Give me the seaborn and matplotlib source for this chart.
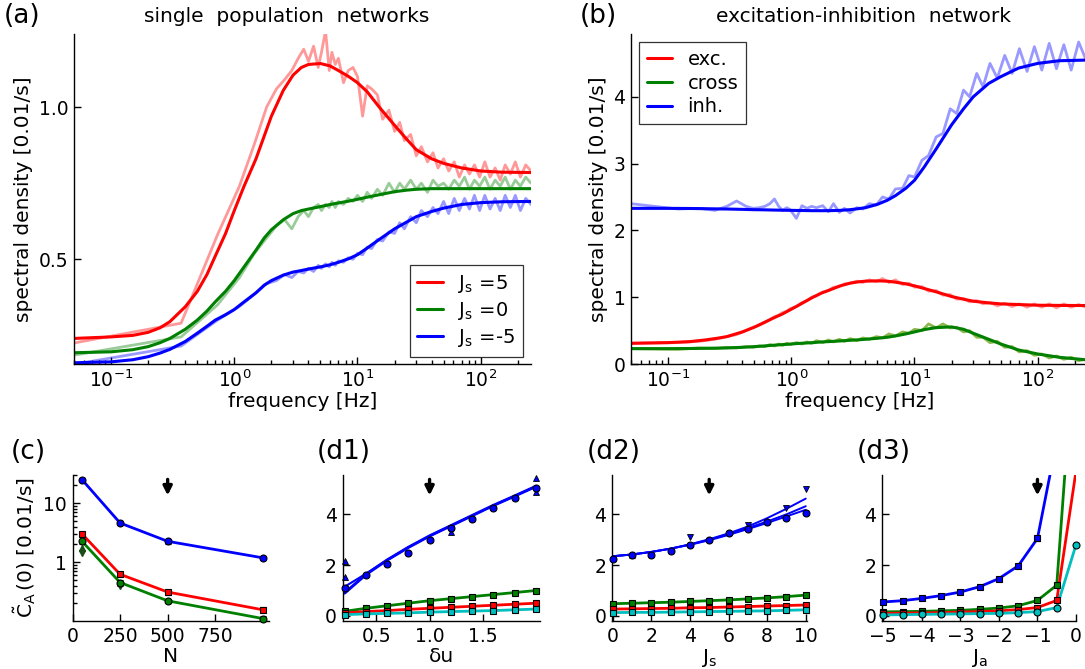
import matplotlib
matplotlib.use("Agg")
import matplotlib.pyplot as plt
from matplotlib.ticker import NullFormatter
import seaborn as sns

# ---------------- panel (a): single population networks ----------------
freq_theory = [0.05, 0.1, 0.15, 0.2, 0.25, 0.3, 0.4, 0.5, 0.6, 0.7, 0.85, 1, 1.2, 1.5,
               1.75, 2, 2.5, 3, 3.5, 4, 5, 6, 7, 8.5, 10, 12, 15, 20, 25, 30, 40, 50,
               70, 100, 150, 256]
a_pos_theory = [0.24, 0.245, 0.25, 0.26, 0.275, 0.295, 0.344, 0.394, 0.45, 0.51, 0.585,
                0.66, 0.74, 0.83, 0.905, 0.97, 1.055, 1.105, 1.13, 1.14, 1.143, 1.135,
                1.12, 1.1, 1.08, 1.05, 1.0, 0.94, 0.895, 0.86, 0.83, 0.815, 0.8, 0.79,
                0.786, 0.785]
a_zero_theory = [0.193, 0.196, 0.203, 0.213, 0.226, 0.24, 0.27, 0.30, 0.33, 0.36, 0.395,
                 0.43, 0.475, 0.53, 0.57, 0.597, 0.63, 0.65, 0.66, 0.665, 0.673, 0.68,
                 0.685, 0.691, 0.697, 0.704, 0.712, 0.722, 0.727, 0.73, 0.732, 0.732,
                 0.732, 0.732, 0.732, 0.732]
a_neg_theory = [0.16, 0.163, 0.17, 0.18, 0.192, 0.204, 0.23, 0.257, 0.28, 0.30, 0.318,
                0.335, 0.36, 0.39, 0.415, 0.43, 0.448, 0.458, 0.463, 0.468, 0.475, 0.482,
                0.49, 0.502, 0.515, 0.537, 0.565, 0.60, 0.622, 0.64, 0.657, 0.668, 0.68,
                0.686, 0.689, 0.69]

a_freq_sim = [0.05, 0.37, 0.73, 1.1, 1.46, 1.83, 2.2, 2.56, 2.93, 3.3,
              3.66, 4.0, 4.4, 4.8, 5.1, 5.5, 5.9, 6.2, 6.6, 7.0,
              7.7, 8.4, 9.2, 10, 11, 12, 13, 14.5, 16, 18,
              20, 22, 24, 27, 30, 33, 37, 41, 45, 50,
              55, 61, 67, 74, 81, 89, 98, 108, 119, 131,
              144, 158, 174, 191, 210, 232, 256]
a_pos_sim = [0.225, 0.29, 0.58, 0.74, 0.88, 1.0, 1.06, 1.09, 1.12, 1.16,
             1.19, 1.15, 1.2, 1.13, 1.18, 1.25, 1.12, 1.18, 1.14, 1.16,
             1.08, 1.12, 1.13, 1.1, 0.97, 1.07, 1.06, 1.04, 0.96, 0.99,
             0.92, 0.95, 0.89, 0.91, 0.84, 0.87, 0.82, 0.85, 0.8, 0.83,
             0.79, 0.82, 0.77, 0.81, 0.78, 0.81, 0.77, 0.82, 0.77, 0.8,
             0.76, 0.81, 0.78, 0.82, 0.77, 0.81, 0.79]
a_zero_sim = [0.185, 0.245, 0.35, 0.44, 0.52, 0.57, 0.61, 0.63, 0.6, 0.64,
              0.66, 0.64, 0.67, 0.68, 0.66, 0.68, 0.67, 0.69, 0.67, 0.69,
              0.68, 0.7, 0.69, 0.71, 0.69, 0.72, 0.7, 0.73, 0.71, 0.75,
              0.72, 0.75, 0.73, 0.76, 0.73, 0.75, 0.72, 0.76, 0.74, 0.75,
              0.73, 0.76, 0.74, 0.77, 0.73, 0.76, 0.74, 0.77, 0.73, 0.76,
              0.74, 0.77, 0.73, 0.76, 0.74, 0.77, 0.75]
a_neg_sim = [0.155, 0.215, 0.3, 0.345, 0.385, 0.42, 0.43, 0.45, 0.44, 0.46,
             0.455, 0.47, 0.46, 0.48, 0.47, 0.485, 0.475, 0.49, 0.48, 0.495,
             0.49, 0.505, 0.5, 0.52, 0.515, 0.54, 0.535, 0.565, 0.56, 0.59,
             0.585, 0.62, 0.6, 0.64, 0.62, 0.66, 0.64, 0.67, 0.65, 0.69,
             0.65, 0.7, 0.66, 0.7, 0.665, 0.71, 0.66, 0.71, 0.665, 0.7,
             0.66, 0.71, 0.67, 0.71, 0.66, 0.7, 0.68]
a_labels = [r"J$_{\rm s}$ =5", r"J$_{\rm s}$ =0", r"J$_{\rm s}$ =-5"]

# ---------------- panel (b): excitation-inhibition network ----------------
b_exc_theory = [0.31, 0.32, 0.335, 0.36, 0.385, 0.41, 0.48, 0.55, 0.62, 0.68, 0.75,
                0.82, 0.9, 1.0, 1.06, 1.1, 1.17, 1.21, 1.23, 1.24, 1.245, 1.24, 1.225,
                1.2, 1.17, 1.13, 1.08, 1.01, 0.97, 0.94, 0.915, 0.9, 0.89, 0.88, 0.877,
                0.875]
b_cross_theory = [0.23, 0.23, 0.232, 0.235, 0.238, 0.24, 0.25, 0.26, 0.27, 0.28, 0.29,
                  0.3, 0.31, 0.32, 0.33, 0.335, 0.345, 0.355, 0.362, 0.37, 0.385, 0.4,
                  0.42, 0.45, 0.48, 0.515, 0.545, 0.555, 0.52, 0.46, 0.37, 0.3, 0.21,
                  0.15, 0.1, 0.06]
b_inh_theory = [2.33, 2.33, 2.328, 2.325, 2.322, 2.32, 2.315, 2.31, 2.308, 2.305, 2.302,
                2.3, 2.298, 2.295, 2.295, 2.295, 2.3, 2.31, 2.325, 2.34, 2.39, 2.45,
                2.52, 2.63, 2.75, 2.95, 3.22, 3.58, 3.82, 4.0, 4.2, 4.3, 4.43, 4.5,
                4.54, 4.55]

b_freq_sim = [0.05, 0.12, 0.18, 0.24, 0.3, 0.36, 0.43, 0.49, 0.55, 0.61,
              0.67, 0.73, 0.79, 0.85, 0.92, 0.98, 1.1, 1.22, 1.34, 1.46,
              1.6, 1.8, 2.0, 2.2, 2.45, 2.7, 3.0, 3.4, 3.8, 4.3,
              4.9, 5.5, 6.2, 7, 8, 9, 10, 11.5, 13, 15,
              17, 19.5, 22, 25, 28, 32, 36, 41, 47, 54,
              62, 71, 82, 94, 108, 124, 142, 163, 187, 215, 256]
b_exc_sim = [0.31, 0.32, 0.34, 0.37, 0.41, 0.44, 0.5, 0.55, 0.58, 0.62,
             0.66, 0.71, 0.73, 0.77, 0.79, 0.83, 0.86, 0.92, 0.95, 1.0,
             1.02, 1.08, 1.1, 1.15, 1.16, 1.2, 1.21, 1.24, 1.22, 1.26,
             1.23, 1.28, 1.22, 1.26, 1.19, 1.21, 1.15, 1.16, 1.09, 1.1,
             1.03, 1.04, 0.97, 0.98, 0.93, 0.95, 0.9, 0.92, 0.87, 0.91,
             0.86, 0.9, 0.85, 0.9, 0.85, 0.9, 0.84, 0.9, 0.85, 0.89, 0.84]
b_cross_sim = [0.23, 0.22, 0.24, 0.23, 0.25, 0.24, 0.26, 0.25, 0.27, 0.26,
               0.29, 0.27, 0.3, 0.28, 0.31, 0.29, 0.32, 0.3, 0.33, 0.31,
               0.35, 0.32, 0.36, 0.33, 0.37, 0.34, 0.38, 0.35, 0.39, 0.37,
               0.41, 0.39, 0.45, 0.42, 0.48, 0.46, 0.52, 0.5, 0.6, 0.54,
               0.6, 0.54, 0.55, 0.48, 0.5, 0.4, 0.4, 0.32, 0.34, 0.25,
               0.26, 0.18, 0.2, 0.13, 0.15, 0.09, 0.12, 0.07, 0.1, 0.05, 0.08]
b_inh_sim = [2.40, 2.32, 2.33, 2.30, 2.36, 2.44, 2.36, 2.33, 2.34, 2.36,
             2.40, 2.47, 2.36, 2.30, 2.34, 2.31, 2.18, 2.37, 2.33, 2.36,
             2.34, 2.37, 2.28, 2.40, 2.27, 2.33, 2.26, 2.34, 2.32, 2.40,
             2.38, 2.50, 2.47, 2.62, 2.63, 2.82, 2.80, 3.05, 3.12, 3.40,
             3.45, 3.82, 3.75, 4.10, 4.00, 4.35, 4.15, 4.50, 4.28, 4.62,
             4.35, 4.72, 4.38, 4.75, 4.40, 4.80, 4.42, 4.78, 4.40, 4.82, 4.48]
b_labels = ["exc.", "cross", "inh."]

# ---------------- panel (c): zero-frequency power vs N ----------------
c_N = [50, 250, 500, 1000]
c_exc = [3.0, 0.62, 0.31, 0.155]
c_cross = [2.25, 0.45, 0.22, 0.11]
c_inh = [25.0, 4.6, 2.25, 1.18]
c_exc_err = [0.25, 0.05, 0.03, 0.015]
c_cross_err = [0.2, 0.05, 0.02, 0.01]
c_inh_err = [2.0, 0.35, 0.2, 0.08]
c_tri_N = [50, 50, 250]
c_tri_val = [1.75, 1.4, 0.4]

# ---------------- panel (d1): vs delta u ----------------
d1_du = [0.2, 0.4, 0.6, 0.8, 1.0, 1.2, 1.4, 1.6, 1.8, 2.0]
d1_inh_a = [0.9, 1.63, 2.2, 2.7, 3.15, 3.55, 3.95, 4.35, 4.72, 5.1]
d1_inh_b = [1.15, 1.66, 2.2, 2.7, 3.15, 3.55, 3.95, 4.35, 4.72, 5.1]
d1_inh_pts = [1.1, 1.6, 2.04, 2.48, 2.99, 3.45, 3.8, 4.24, 4.64, 5.05]
d1_cross = [0.18, 0.3, 0.4, 0.5, 0.6, 0.68, 0.76, 0.84, 0.92, 1.0]
d1_exc = [0.12, 0.17, 0.21, 0.26, 0.3, 0.34, 0.38, 0.42, 0.46, 0.5]
d1_cyan = [0.05, 0.08, 0.1, 0.12, 0.15, 0.17, 0.19, 0.21, 0.24, 0.27]
d1_tri_x = [0.2, 0.2, 1.2, 2.0, 2.0]
d1_tri_val = [1.53, 2.16, 3.31, 4.9, 5.43]

# ---------------- panel (d2): vs J_s ----------------
d2_js = [0, 1, 2, 3, 4, 5, 6, 7, 8, 9, 10]
d2_inh_a = [2.35, 2.42, 2.52, 2.65, 2.82, 3.02, 3.25, 3.52, 3.85, 4.22, 4.62]
d2_inh_b = [2.35, 2.42, 2.52, 2.65, 2.81, 3.0, 3.22, 3.46, 3.72, 4.0, 4.32]
d2_inh_c = [2.35, 2.42, 2.52, 2.65, 2.8, 2.98, 3.19, 3.42, 3.66, 3.92, 4.18]
d2_inh_pts = [2.25, 2.38, 2.41, 2.55, 2.78, 3.0, 3.25, 3.44, 3.71, 3.84, 4.04]
d2_cross = [0.48, 0.5, 0.52, 0.54, 0.57, 0.6, 0.63, 0.67, 0.71, 0.76, 0.82]
d2_exc = [0.27, 0.28, 0.29, 0.3, 0.32, 0.33, 0.35, 0.37, 0.39, 0.41, 0.43]
d2_cyan = [0.13, 0.14, 0.14, 0.15, 0.16, 0.17, 0.18, 0.19, 0.2, 0.22, 0.24]
d2_tri_x = [4, 7, 9, 10]
d2_tri_val = [3.11, 3.58, 4.24, 4.99]

# ---------------- panel (d3): vs J_a ----------------
d3_ja = [-5, -4.5, -4, -3.5, -3, -2.5, -2, -1.5, -1, -0.5, 0]
d3_ja_inh = [-5, -4.5, -4, -3.5, -3, -2.5, -2, -1.5, -1, -0.5]
d3_inh = [0.55, 0.6, 0.69, 0.8, 0.94, 1.15, 1.47, 1.97, 3.05, 6.9]
d3_cross = [0.16, 0.17, 0.18, 0.2, 0.22, 0.26, 0.31, 0.4, 0.61, 1.21, 11.6]
d3_exc = [0.1, 0.11, 0.12, 0.13, 0.15, 0.17, 0.2, 0.25, 0.33, 0.61, 5.7]
d3_cyan = [0.04, 0.05, 0.06, 0.07, 0.08, 0.09, 0.1, 0.13, 0.17, 0.33, 2.8]

RED, GREEN, BLUE, CYAN = "#ff0000", "#008000", "#0000ff", "#00bfbf"
OLIVE = "#8fb84e"

sns.set_theme(style="ticks")
plt.rcParams["font.family"] = ["DejaVu Sans"]
plt.rcParams.update({
    "mathtext.fontset": "dejavusans",
    "axes.edgecolor": "black",
    "axes.labelcolor": "black",
    "text.color": "black",
    "xtick.color": "black",
    "ytick.color": "black",
    "xtick.direction": "in",
    "ytick.direction": "in",
    "axes.linewidth": 1.0,
})

W, H = 1085, 669
fig = plt.figure(figsize=(W / 100, H / 100), dpi=100)


def add_axes(left, top, right, bottom):
    return fig.add_axes([left / W, 1 - bottom / H, (right - left) / W, (bottom - top) / H])


def style(ax):
    sns.despine(ax=ax)
    ax.tick_params(which="both", direction="in", top=False, right=False,
                   labelsize=13.5, width=1, pad=4)
    ax.tick_params(which="major", length=5)
    ax.tick_params(which="minor", length=3)


def line(ax, x, y, color, lw=2.0, alpha=1.0):
    sns.lineplot(x=x, y=y, ax=ax, color=color, lw=lw, alpha=alpha,
                 errorbar=None, legend=False)
    return ax.lines[-1]


def points(ax, x, y, err, color, marker="s"):
    ax.errorbar(x, y, yerr=err, fmt=marker, ms=5, mfc=color, mec="black", mew=0.8,
                ecolor="black", elinewidth=1, capsize=2.5, capthick=1,
                clip_on=False, zorder=5)


def arrow(ax, x):
    ax.annotate("", xy=(x, 0.86), xycoords=("data", "axes fraction"),
                xytext=(x, 0.97), textcoords=("data", "axes fraction"),
                arrowprops=dict(arrowstyle="-|>", color="black", lw=2.4,
                                mutation_scale=13, shrinkA=0, shrinkB=0))


# ---- (a)
ax_a = add_axes(74, 34, 531, 364)
for sim, col in [(a_pos_sim, RED), (a_zero_sim, GREEN), (a_neg_sim, BLUE)]:
    line(ax_a, a_freq_sim, sim, col, lw=2.0, alpha=0.4)
handles = []
for th, col in [(a_pos_theory, RED), (a_zero_theory, GREEN), (a_neg_theory, BLUE)]:
    handles.append(line(ax_a, freq_theory, th, col, lw=2.2))
ax_a.set_xscale("log")
ax_a.set_xlim(0.05, 256)
ax_a.set_ylim(0.156, 1.24)
ax_a.set_yticks([0.5, 1.0])
ax_a.set_yticklabels(["0.5", "1.0"])
ax_a.xaxis.set_minor_formatter(NullFormatter())
style(ax_a)
ax_a.set_xlabel("frequency [Hz]", fontsize=14.5, labelpad=1)
ax_a.set_ylabel("spectral density [0.01/s]", fontsize=14.5)
leg = ax_a.legend(handles, a_labels, loc="lower right", bbox_to_anchor=(0.982, 0.022),
                  borderaxespad=0, fontsize=14, frameon=True, fancybox=False,
                  edgecolor="black", handlelength=1.3, handletextpad=0.8,
                  labelspacing=0.25, borderpad=0.4)
leg.get_frame().set_linewidth(0.9)

# ---- (b)
ax_b = add_axes(631, 34, 1088, 364)
for sim, col, al in [(b_exc_sim, RED, 0.4), (b_cross_sim, OLIVE, 1.0), (b_inh_sim, BLUE, 0.4)]:
    line(ax_b, b_freq_sim, sim, col, lw=2.0, alpha=al)
handles = []
for th, col in [(b_exc_theory, RED), (b_cross_theory, GREEN), (b_inh_theory, BLUE)]:
    handles.append(line(ax_b, freq_theory, th, col, lw=2.2))
ax_b.set_xscale("log")
ax_b.set_xlim(0.05, 256)
ax_b.set_ylim(0, 4.94)
ax_b.set_yticks([0, 1, 2, 3, 4])
ax_b.xaxis.set_minor_formatter(NullFormatter())
style(ax_b)
ax_b.set_xlabel("frequency [Hz]", fontsize=14.5, labelpad=1)
ax_b.set_ylabel("spectral density [0.01/s]", fontsize=14.5)
leg = ax_b.legend(handles, b_labels, loc="upper left", bbox_to_anchor=(0.017, 0.976),
                  borderaxespad=0, fontsize=14, frameon=True, fancybox=False,
                  edgecolor="black", handlelength=1.3, handletextpad=0.8,
                  labelspacing=0.25, borderpad=0.4)
leg.get_frame().set_linewidth(0.9)

# ---- (c)
ax_c = add_axes(72.5, 475, 268.5, 621)
for vals, col in [(c_exc, RED), (c_cross, GREEN), (c_inh, BLUE)]:
    line(ax_c, c_N, vals, col, lw=2.0)
points(ax_c, c_N, c_exc, c_exc_err, RED, "s")
points(ax_c, c_N, c_cross, c_cross_err, GREEN, "o")
points(ax_c, c_N, c_inh, c_inh_err, BLUE, "o")
ax_c.plot(c_tri_N[:1], c_tri_val[:1], "^", color="#1a4d1a", ms=5, clip_on=False)
ax_c.plot(c_tri_N[1:], c_tri_val[1:], "v", color="#1a4d1a", ms=5, clip_on=False)
ax_c.set_yscale("log")
ax_c.set_xlim(0, 1030)
ax_c.set_ylim(0.1, 30)
ax_c.set_xticks([0, 250, 500, 750])
ax_c.set_yticks([1, 10])
ax_c.set_yticklabels(["1", "10"])
ax_c.yaxis.set_minor_formatter(NullFormatter())
style(ax_c)
ax_c.set_xlabel("N", fontsize=14.5, labelpad=1)
ax_c.set_ylabel(r"$\tilde{\mathrm{C}}_{\mathrm{A}}\,(0)$ [0.01/s]", fontsize=14.5)
arrow(ax_c, 500)

# ---- (d1)
ax_d1 = add_axes(342.5, 475, 540, 621)
line(ax_d1, d1_du, d1_inh_a, BLUE, lw=2.2)
line(ax_d1, d1_du, d1_inh_b, BLUE, lw=1.5)
for vals, col in [(d1_cross, GREEN), (d1_exc, RED), (d1_cyan, CYAN)]:
    line(ax_d1, d1_du, vals, col, lw=2.0)
    points(ax_d1, d1_du, vals, 0.07, col)
points(ax_d1, d1_du, d1_inh_pts, 0.08, BLUE, "o")
ax_d1.plot(d1_tri_x, d1_tri_val, "^", color=BLUE, mec="black", mew=0.6, ms=5, clip_on=False)
ax_d1.set_xlim(0.18, 2.04)
ax_d1.set_ylim(-0.2, 5.55)
ax_d1.set_xticks([0.5, 1.0, 1.5])
ax_d1.set_yticks([0, 2, 4])
style(ax_d1)
ax_d1.set_xlabel("δu", fontsize=14.5, labelpad=1)
arrow(ax_d1, 1.0)

# ---- (d2)
ax_d2 = add_axes(611.7, 475, 806.7, 621)
for vals in [d2_inh_a, d2_inh_b, d2_inh_c]:
    line(ax_d2, d2_js, vals, BLUE, lw=1.4)
for vals, col in [(d2_cross, GREEN), (d2_exc, RED), (d2_cyan, CYAN)]:
    line(ax_d2, d2_js, vals, col, lw=2.0)
    points(ax_d2, d2_js, vals, 0.07, col)
points(ax_d2, d2_js, d2_inh_pts, 0.08, BLUE, "o")
ax_d2.plot(d2_tri_x, d2_tri_val, "v", color=BLUE, mec="black", mew=0.6, ms=5, clip_on=False)
ax_d2.set_xlim(-0.05, 10.05)
ax_d2.set_ylim(-0.2, 5.55)
ax_d2.set_xticks([0, 2, 4, 6, 8, 10])
ax_d2.set_yticks([0, 2, 4])
style(ax_d2)
ax_d2.set_xlabel(r"J$_{\rm s}$", fontsize=14.5, labelpad=1)
arrow(ax_d2, 5)

# ---- (d3)
ax_d3 = add_axes(881.7, 475, 1076, 621)
line(ax_d3, d3_ja_inh, d3_inh, BLUE, lw=2.0)
for vals, col in [(d3_cross, GREEN), (d3_exc, RED), (d3_cyan, CYAN)]:
    line(ax_d3, d3_ja, vals, col, lw=2.0)
points(ax_d3, d3_ja_inh[:9], d3_inh[:9], 0.08, BLUE)
points(ax_d3, d3_ja[:10], d3_cross[:10], 0.06, GREEN)
points(ax_d3, d3_ja[:10], d3_exc[:10], 0.06, RED)
points(ax_d3, d3_ja, d3_cyan, 0.06, CYAN, "o")
ax_d3.set_xlim(-5.04, 0.0)
ax_d3.set_ylim(-0.2, 5.55)
ax_d3.set_xticks([-5, -4, -3, -2, -1, 0])
ax_d3.set_yticks([0, 2, 4])
style(ax_d3)
ax_d3.set_xlabel(r"J$_{\rm a}$", fontsize=14.5, labelpad=1)
arrow(ax_d3, -1)

# panel letters and titles
for txt, x, y in [("(a)", 22, 16), ("(b)", 598, 16), ("(c)", 28, 452),
                  ("(d1)", 344, 452), ("(d2)", 614, 452), ("(d3)", 884, 452)]:
    fig.text(x / W, 1 - y / H, txt, fontsize=19, ha="center", va="center")
fig.text(287 / W, 1 - 17 / H, "single  population  networks", fontsize=14.5,
         ha="center", va="center")
fig.text(863 / W, 1 - 17 / H, "excitation-inhibition  network", fontsize=14.5,
         ha="center", va="center")

fig.savefig("out.png", dpi=100)
